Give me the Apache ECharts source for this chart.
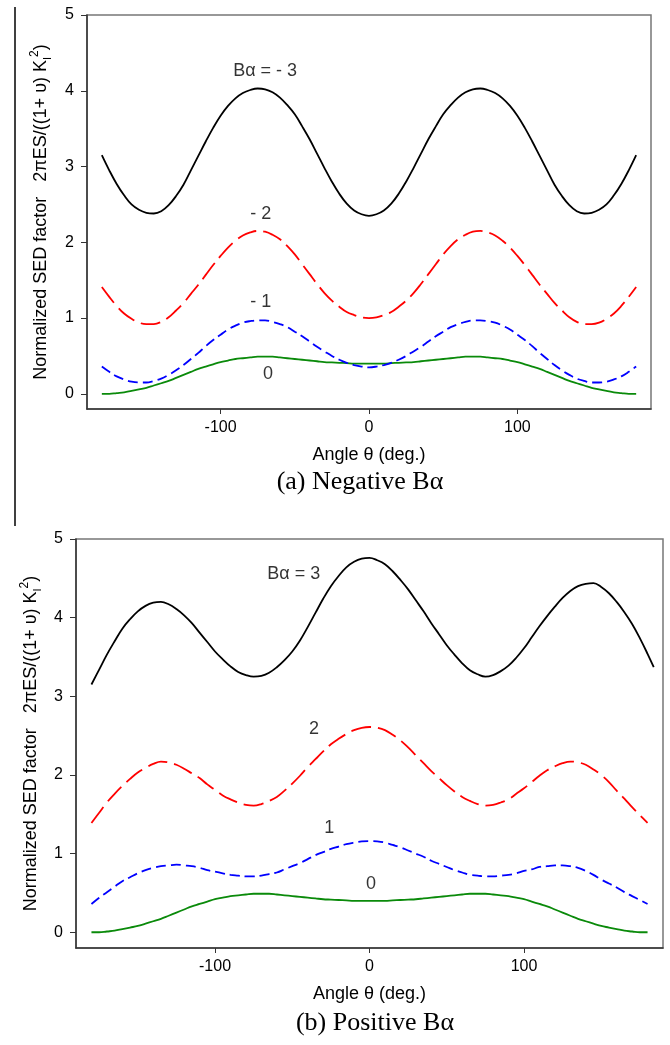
<!DOCTYPE html>
<html>
<head>
<meta charset="utf-8">
<script src="https://cdn.jsdelivr.net/npm/echarts@6/dist/echarts.min.js"></script>
<style>
  html, body { margin: 0; padding: 0; background: #fff; }
  #main { width: 670px; height: 1045px; }
</style>
</head>
<body>
<div id="main"></div>
<script>
// angle theta (deg.), every 5 degrees
var angles = [-180, -175, -170, -165, -160, -155, -150, -145, -140, -135, -130, -125, -120, -115, -110, -105, -100, -95,
              -90, -85, -80, -75, -70, -65, -60, -55, -50, -45, -40, -35, -30, -25, -20, -15, -10, -5, 0,
              5, 10, 15, 20, 25, 30, 35, 40, 45, 50, 55, 60, 65, 70, 75, 80, 85, 90,
              95, 100, 105, 110, 115, 120, 125, 130, 135, 140, 145, 150, 155, 160, 165, 170, 175, 180];
// black curve of (b) runs a little past 180 in the figure
var anglesPos3 = angles.concat([184]);

var xTicks = [-100, 0, 100];
var yTicks = [0, 1, 2, 3, 4, 5];

// (a) negative B alpha
var negB3 = [3.15, 2.95, 2.77, 2.62, 2.50, 2.43, 2.39, 2.38, 2.41, 2.49, 2.61, 2.76, 2.95, 3.14, 3.33, 3.51, 3.67, 3.80,
             3.90, 3.97, 4.01, 4.03, 4.02, 3.98, 3.91, 3.81, 3.69, 3.53, 3.36, 3.17, 2.98, 2.80, 2.64, 2.51, 2.42, 2.37, 2.35,
             2.37, 2.42, 2.51, 2.64, 2.80, 2.98, 3.17, 3.36, 3.53, 3.69, 3.81, 3.91, 3.98, 4.02, 4.03, 4.01, 3.97, 3.90,
             3.80, 3.67, 3.51, 3.33, 3.14, 2.95, 2.76, 2.61, 2.49, 2.41, 2.38, 2.39, 2.43, 2.50, 2.62, 2.77, 2.95, 3.15];
var negB2 = [1.41, 1.28, 1.16, 1.06, 0.99, 0.94, 0.92, 0.92, 0.95, 1.01, 1.10, 1.20, 1.32, 1.44, 1.57, 1.70, 1.82, 1.93,
             2.02, 2.09, 2.13, 2.15, 2.14, 2.10, 2.04, 1.95, 1.84, 1.71, 1.58, 1.45, 1.33, 1.23, 1.15, 1.08, 1.04, 1.01, 1.00,
             1.01, 1.04, 1.08, 1.15, 1.23, 1.33, 1.45, 1.58, 1.71, 1.84, 1.95, 2.04, 2.10, 2.14, 2.15, 2.13, 2.09, 2.02,
             1.93, 1.82, 1.70, 1.57, 1.44, 1.32, 1.20, 1.10, 1.01, 0.95, 0.92, 0.92, 0.94, 0.99, 1.06, 1.16, 1.28, 1.41];
var negB1 = [0.36, 0.29, 0.23, 0.19, 0.16, 0.15, 0.15, 0.17, 0.20, 0.25, 0.31, 0.38, 0.46, 0.54, 0.63, 0.71, 0.78, 0.85,
             0.90, 0.94, 0.96, 0.97, 0.97, 0.95, 0.92, 0.88, 0.82, 0.76, 0.69, 0.62, 0.56, 0.50, 0.45, 0.41, 0.38, 0.36, 0.35,
             0.36, 0.38, 0.41, 0.45, 0.50, 0.56, 0.62, 0.69, 0.76, 0.82, 0.88, 0.92, 0.95, 0.97, 0.97, 0.96, 0.94, 0.90,
             0.85, 0.78, 0.71, 0.63, 0.54, 0.46, 0.38, 0.31, 0.25, 0.20, 0.17, 0.15, 0.15, 0.16, 0.19, 0.23, 0.29, 0.36];
// B alpha = 0, same curve in both panels
var zeroB = [0.00, 0.00, 0.01, 0.02, 0.04, 0.06, 0.08, 0.11, 0.14, 0.17, 0.21, 0.25, 0.29, 0.33, 0.36, 0.39, 0.42, 0.44,
             0.46, 0.47, 0.48, 0.49, 0.49, 0.49, 0.48, 0.47, 0.46, 0.45, 0.44, 0.43, 0.42, 0.415, 0.41, 0.405, 0.40, 0.40, 0.40,
             0.40, 0.40, 0.405, 0.41, 0.415, 0.42, 0.43, 0.44, 0.45, 0.46, 0.47, 0.48, 0.49, 0.49, 0.49, 0.48, 0.47, 0.46,
             0.44, 0.42, 0.39, 0.36, 0.33, 0.29, 0.25, 0.21, 0.17, 0.14, 0.11, 0.08, 0.06, 0.04, 0.02, 0.01, 0.00, 0.00];

// (b) positive B alpha
var posB3 = [3.15, 3.34, 3.53, 3.70, 3.86, 3.98, 4.08, 4.15, 4.19, 4.20, 4.17, 4.11, 4.03, 3.93, 3.81, 3.69, 3.57, 3.47,
             3.38, 3.31, 3.27, 3.25, 3.26, 3.30, 3.37, 3.46, 3.57, 3.71, 3.88, 4.06, 4.24, 4.40, 4.53, 4.64, 4.71, 4.75, 4.76,
             4.73, 4.68, 4.59, 4.48, 4.36, 4.22, 4.08, 3.93, 3.79, 3.65, 3.53, 3.42, 3.33, 3.28, 3.25, 3.27, 3.32, 3.39,
             3.49, 3.61, 3.75, 3.89, 4.02, 4.14, 4.25, 4.34, 4.40, 4.43, 4.44, 4.39, 4.31, 4.20, 4.07, 3.92, 3.74, 3.54, 3.37];
var posB2 = [1.39, 1.52, 1.65, 1.76, 1.86, 1.95, 2.03, 2.09, 2.14, 2.17, 2.16, 2.13, 2.08, 2.02, 1.96, 1.88, 1.81, 1.74,
             1.69, 1.65, 1.62, 1.61, 1.63, 1.67, 1.72, 1.80, 1.89, 1.99, 2.10, 2.20, 2.30, 2.39, 2.46, 2.52, 2.57, 2.60, 2.61,
             2.60, 2.57, 2.51, 2.44, 2.35, 2.25, 2.15, 2.05, 1.96, 1.87, 1.79, 1.72, 1.67, 1.63, 1.61, 1.62, 1.65, 1.69,
             1.76, 1.83, 1.91, 1.99, 2.06, 2.11, 2.15, 2.17, 2.16, 2.13, 2.07, 2.00, 1.91, 1.80, 1.70, 1.59, 1.49, 1.39];
var posB1 = [0.36, 0.44, 0.51, 0.58, 0.65, 0.70, 0.75, 0.79, 0.82, 0.84, 0.85, 0.86, 0.85, 0.84, 0.82, 0.79, 0.77, 0.75,
             0.73, 0.72, 0.71, 0.71, 0.72, 0.74, 0.76, 0.80, 0.84, 0.88, 0.93, 0.98, 1.02, 1.06, 1.09, 1.12, 1.14, 1.155, 1.16,
             1.155, 1.14, 1.11, 1.08, 1.04, 1.00, 0.96, 0.91, 0.87, 0.83, 0.79, 0.76, 0.73, 0.72, 0.71, 0.71, 0.72, 0.73,
             0.75, 0.78, 0.80, 0.83, 0.84, 0.85, 0.85, 0.84, 0.82, 0.78, 0.73, 0.67, 0.62, 0.57, 0.51, 0.46, 0.41, 0.36];

// curve labels, placed in data coordinates
var negNotes = [
  { name: 'Bα = - 3', value: [-70, 4.26] },
  { name: '- 2', value: [-73, 2.37] },
  { name: '- 1', value: [-73, 1.21] },
  { name: '0', value: [-68, 0.26] }
];
var posNotes = [
  { name: 'Bα = 3', value: [-49, 4.56] },
  { name: '2', value: [-36, 2.58] },
  { name: '1', value: [-26, 1.33] },
  { name: '0', value: [1, 0.61] }
];

var SANS = '"Liberation Sans", Arial, sans-serif';
var SERIF = '"Liberation Serif", "Times New Roman", serif';

function pairs(xs, ys) {
  return xs.map(function (x, i) { return [x, ys[i]]; });
}

function xAxisFor(idx) {
  return {
    type: 'value', gridIndex: idx, min: -190, max: 190,
    name: 'Angle θ (deg.)', nameLocation: 'middle', nameGap: 37,
    nameTextStyle: { fontFamily: SANS, fontSize: 18, color: '#000' },
    axisLine: { onZero: false, lineStyle: { color: '#333', width: 1.5 } },
    axisTick: { show: true, length: 5, customValues: xTicks, lineStyle: { color: '#333', width: 1 } },
    axisLabel: { customValues: xTicks, margin: 11, fontFamily: SANS, fontSize: 16, color: '#000' },
    splitLine: { show: false }
  };
}

function yAxisFor(idx, gap) {
  return {
    type: 'value', gridIndex: idx, min: -0.2, max: 5,
    name: '{n|Normalized SED factor   2πES/((1+ υ) K}{sub|I}{sup|2}{n|)}',
    nameLocation: 'middle', nameGap: gap,
    nameTextStyle: {
      rich: {
        n: { fontFamily: SANS, fontSize: 18, color: '#000', lineHeight: 24 },
        sub: { fontFamily: SANS, fontSize: 11, color: '#000', verticalAlign: 'bottom', lineHeight: 24 },
        sup: { fontFamily: SANS, fontSize: 12, color: '#000', verticalAlign: 'top', lineHeight: 24 }
      }
    },
    axisLine: { show: true, onZero: false, lineStyle: { color: '#333', width: 1.5 } },
    axisTick: { show: true, length: 6, customValues: yTicks, lineStyle: { color: '#333', width: 1 } },
    axisLabel: { customValues: yTicks, margin: 13, fontFamily: SANS, fontSize: 16, color: '#000' },
    splitLine: { show: false }
  };
}

function curve(idx, xs, ys, color, dash) {
  return {
    type: 'line', xAxisIndex: idx, yAxisIndex: idx,
    data: pairs(xs, ys), smooth: 0.4, symbol: 'none', silent: true,
    lineStyle: { color: color, width: 1.8, type: dash || 'solid' }
  };
}

function notes(idx, items) {
  return {
    type: 'scatter', xAxisIndex: idx, yAxisIndex: idx,
    data: items, symbolSize: 1, silent: true,
    itemStyle: { color: 'rgba(0,0,0,0)' },
    label: {
      show: true, position: 'inside', formatter: function (p) { return p.name; },
      fontFamily: SANS, fontSize: 18, color: '#000', textBorderWidth: 0
    }
  };
}

var chart = echarts.init(document.getElementById('main'));
var option = {
  animation: false,
  backgroundColor: '#fff',
  grid: [
    { left: 87, top: 15, width: 564, height: 394, show: true, borderColor: '#777', borderWidth: 1.5 },
    { left: 76, top: 539, width: 587, height: 409, show: true, borderColor: '#777', borderWidth: 1.5 }
  ],
  xAxis: [xAxisFor(0), xAxisFor(1)],
  yAxis: [yAxisFor(0, 34), yAxisFor(1, 33)],
  series: [
    curve(0, angles, zeroB, '#0a8a0a'),
    curve(0, angles, negB1, '#0000ff', [10, 5]),
    curve(0, angles, negB2, '#ff0000', [20, 7]),
    curve(0, angles, negB3, '#000'),
    notes(0, negNotes),
    curve(1, angles, zeroB, '#0a8a0a'),
    curve(1, angles, posB1, '#0000ff', [10, 5]),
    curve(1, angles, posB2, '#ff0000', [20, 7]),
    curve(1, anglesPos3, posB3, '#000'),
    notes(1, posNotes)
  ],
  graphic: [
    { type: 'line', shape: { x1: 15, y1: 7, x2: 15, y2: 526 }, style: { stroke: '#000', lineWidth: 1.5 } },
    { type: 'text', x: 360, y: 482, style: { text: '(a) Negative Bα', fontFamily: SERIF, fontSize: 26, fill: '#000', align: 'center', verticalAlign: 'middle' } },
    { type: 'text', x: 375, y: 1023, style: { text: '(b) Positive Bα', fontFamily: SERIF, fontSize: 26, fill: '#000', align: 'center', verticalAlign: 'middle' } }
  ]
};
chart.setOption(option);
</script>
</body>
</html>
